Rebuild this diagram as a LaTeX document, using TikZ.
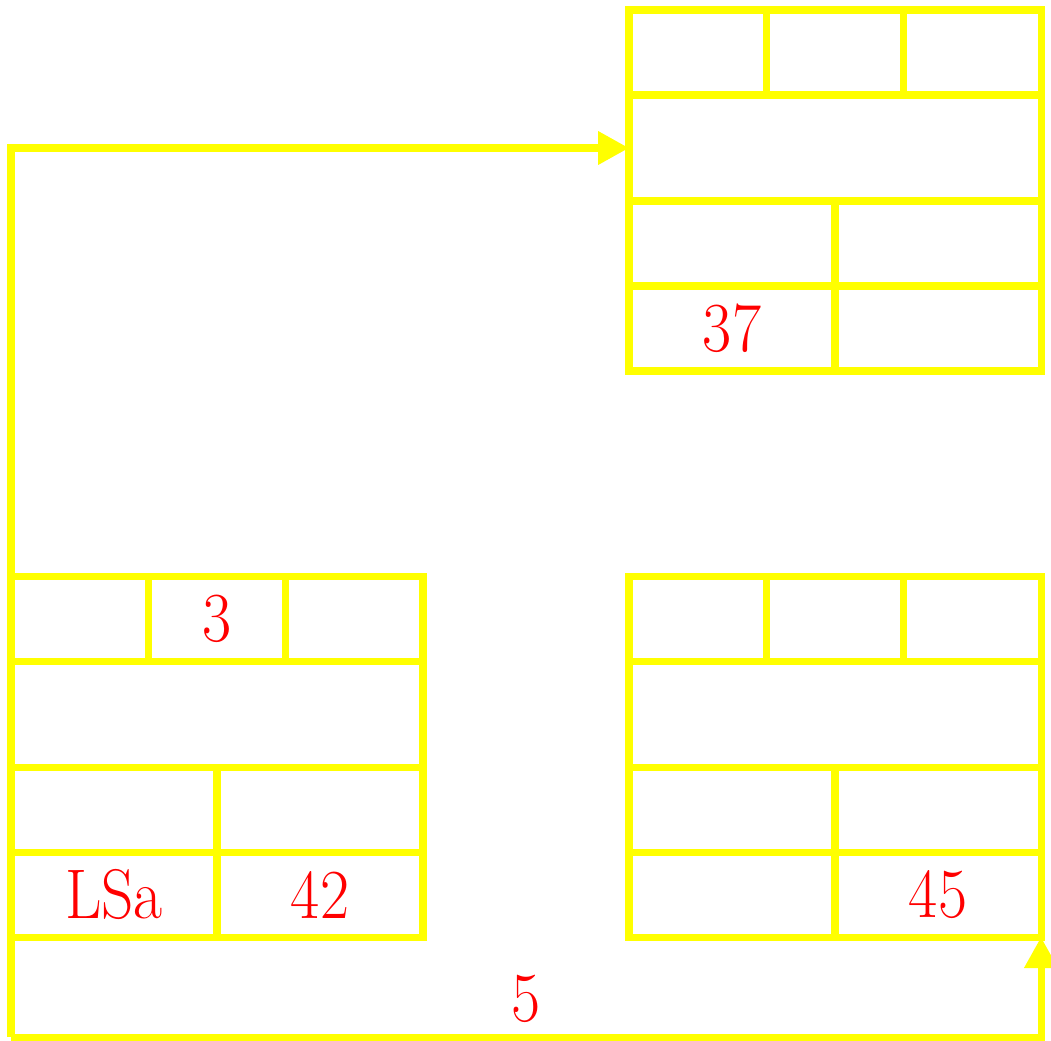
\documentclass[tikz,border=0pt]{standalone}
\usepackage{fontspec}
\usepackage{tikz}
\usetikzlibrary{positioning,arrows.meta}
\definecolor{recyellow}{RGB}{255,255,0}
\definecolor{recred}{RGB}{255,0,0}
\newfontfamily\cellfamily[Extension=.otf, UprightFont=*-regular, FakeStretch=0.9]{lmroman17}
\newcommand{\cellfont}{\cellfamily\fontsize{40}{44}\selectfont}
\tikzset{
  cell/.style={draw=recyellow, line width=4pt, inner sep=0pt, outer sep=0pt,
               minimum width=#1, minimum height=1.7cm, text=recred, font=\cellfont},
  cell/.default=2.7467cm,
  half/.style={cell=4.12cm},
  wide/.style={cell=8.24cm, minimum height=2.12cm},
  flow/.style={-{Triangle[length=0.62cm, width=0.64cm]}, line width=4pt, draw=recyellow},
  numlbl/.style={text=recred, font=\cellfont, inner sep=0.22cm},
}

\begin{document}
\begin{tikzpicture}
  \useasboundingbox (0,0) rectangle (21.02,-20.8);
  % upper right record
  \node[cell, anchor=north west] (t1) at (12.58,-0.2) {};
  \node[cell, right=0pt of t1] (t2) {};
  \node[cell, right=0pt of t2] (t3) {};
  \node[wide, below=0pt of t1.south west, anchor=north west] (t4) {};
  \node[half, below=0pt of t4.south west, anchor=north west] (t5) {};
  \node[half, right=0pt of t5] (t6) {};
  \node[half, below=0pt of t5] (t7) {37};
  \node[half, right=0pt of t7] (t8) {};
  % lower left record
  \node[cell, anchor=north west] (a1) at (0.22,-11.52) {};
  \node[cell, right=0pt of a1] (a2) {3};
  \node[cell, right=0pt of a2] (a3) {};
  \node[wide, below=0pt of a1.south west, anchor=north west] (a4) {};
  \node[half, below=0pt of a4.south west, anchor=north west] (a5) {};
  \node[half, right=0pt of a5] (a6) {};
  \node[half, below=0pt of a5] (a7) {LSa};
  \node[half, right=0pt of a7] (a8) {42};
  % lower right record
  \node[cell, anchor=north west] (b1) at (12.58,-11.52) {};
  \node[cell, right=0pt of b1] (b2) {};
  \node[cell, right=0pt of b2] (b3) {};
  \node[wide, below=0pt of b1.south west, anchor=north west] (b4) {};
  \node[half, below=0pt of b4.south west, anchor=north west] (b5) {};
  \node[half, right=0pt of b5] (b6) {};
  \node[half, below=0pt of b5] (b7) {};
  \node[half, right=0pt of b7] (b8) {45};
  % links
  \coordinate (base) at (0.22,-20.74);
  \draw[flow] (base) |- (t4.west);
  \draw[flow] (base) -| node[pos=0.25, above, numlbl] {5} (b8.south east);
\end{tikzpicture}
\end{document}
